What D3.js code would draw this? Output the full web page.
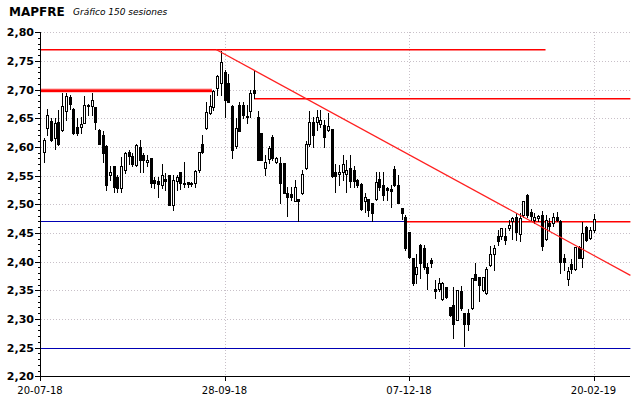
<!DOCTYPE html>
<meta charset="utf-8">
<style>
body { margin: 0; background: #fff; }
svg { display: block; }
.title { font-family: "DejaVu Sans", Verdana, sans-serif; font-weight: bold; font-size: 12px; }
.subtitle { font-family: "DejaVu Sans", Verdana, sans-serif; font-style: italic; font-size: 9px; }
.ylab { font-family: "DejaVu Sans", Verdana, sans-serif; font-weight: bold; font-size: 11px; text-anchor: end; }
.xlab { font-family: "DejaVu Sans", Verdana, sans-serif; font-size: 10px; text-anchor: middle; }
</style>
<svg width="640" height="398"></svg>
<script src="https://d3js.org/d3.v7.min.js"></script>
<script>

// sessions 1..150 (index 0 = 20-07-18 on the axis)
var opens = [2.592,2.633,2.645,2.615,2.644,2.630,2.663,2.688,2.666,2.635,
  2.634,2.642,2.674,2.672,2.670,2.629,2.621,2.601,2.551,2.566,
  2.548,2.528,2.560,2.592,2.584,2.568,2.600,2.586,2.573,2.580,
  2.542,2.541,2.534,2.544,2.551,2.499,2.540,2.556,2.538,2.539,
  2.538,2.538,2.560,2.606,2.633,2.659,2.670,2.702,2.712,2.730,
  2.712,2.671,2.601,2.673,2.673,2.654,2.662,2.699,2.653,2.624,
  2.564,2.579,2.618,2.573,2.572,2.572,2.519,2.518,2.506,2.510,
  2.519,2.563,2.605,2.644,2.644,2.640,2.638,2.630,2.631,2.557,
  2.553,2.557,2.553,2.564,2.560,2.542,2.535,2.505,2.510,2.503,
  2.509,2.545,2.534,2.528,2.526,2.561,2.534,2.493,2.478,2.452,
  2.406,2.378,2.429,2.424,2.390,2.403,2.353,2.352,2.334,2.356,
  2.321,2.324,2.299,2.348,2.310,2.310,2.319,2.378,2.373,2.351,
  2.345,2.394,2.414,2.445,2.444,2.444,2.458,2.471,2.477,2.449,
  2.481,2.516,2.487,2.472,2.476,2.481,2.439,2.468,2.468,2.478,
  2.470,2.406,2.369,2.396,2.388,2.425,2.407,2.460,2.441,2.456];

var highs = [2.615,2.666,2.650,2.650,2.665,2.695,2.695,2.691,2.668,2.650,
  2.652,2.689,2.675,2.695,2.670,2.632,2.627,2.603,2.566,2.566,
  2.551,2.583,2.592,2.595,2.589,2.606,2.612,2.589,2.586,2.580,
  2.548,2.548,2.571,2.554,2.551,2.551,2.551,2.556,2.573,2.539,
  2.539,2.560,2.592,2.621,2.679,2.690,2.699,2.726,2.768,2.735,
  2.728,2.673,2.650,2.679,2.679,2.673,2.699,2.735,2.662,2.624,
  2.586,2.601,2.621,2.582,2.583,2.572,2.531,2.531,2.543,2.510,
  2.559,2.610,2.662,2.653,2.664,2.665,2.647,2.660,2.631,2.571,
  2.568,2.586,2.577,2.586,2.566,2.545,2.537,2.519,2.510,2.503,
  2.557,2.557,2.557,2.531,2.534,2.566,2.551,2.493,2.481,2.452,
  2.406,2.414,2.431,2.429,2.397,2.406,2.368,2.371,2.365,2.356,
  2.321,2.355,2.351,2.357,2.311,2.318,2.371,2.398,2.374,2.374,
  2.390,2.427,2.429,2.456,2.458,2.458,2.473,2.477,2.484,2.484,
  2.506,2.518,2.491,2.485,2.481,2.488,2.481,2.476,2.485,2.487,
  2.472,2.414,2.390,2.404,2.426,2.427,2.469,2.462,2.461,2.483];

var lows = [2.573,2.621,2.610,2.597,2.603,2.627,2.647,2.667,2.623,2.620,
  2.624,2.641,2.656,2.656,2.631,2.605,2.574,2.525,2.542,2.522,
  2.522,2.522,2.554,2.571,2.566,2.566,2.557,2.557,2.566,2.531,
  2.528,2.513,2.528,2.525,2.499,2.490,2.525,2.526,2.531,2.531,
  2.532,2.531,2.557,2.589,2.631,2.658,2.665,2.691,2.691,2.653,
  2.679,2.580,2.598,2.627,2.650,2.641,2.652,2.685,2.577,2.578,
  2.551,2.572,2.577,2.572,2.502,2.519,2.479,2.508,2.505,2.470,
  2.518,2.561,2.602,2.600,2.630,2.634,2.600,2.627,2.548,2.522,
  2.534,2.542,2.522,2.531,2.531,2.531,2.490,2.487,2.480,2.471,
  2.508,2.525,2.508,2.508,2.496,2.532,2.502,2.475,2.420,2.406,
  2.359,2.362,2.371,2.388,2.353,2.391,2.336,2.349,2.333,2.336,
  2.305,2.266,2.298,2.315,2.252,2.281,2.318,2.368,2.332,2.348,
  2.343,2.392,2.386,2.429,2.439,2.431,2.456,2.439,2.437,2.436,
  2.478,2.478,2.470,2.467,2.470,2.421,2.438,2.455,2.462,2.470,
  2.380,2.385,2.359,2.381,2.386,2.407,2.391,2.436,2.439,2.452];

var closes = [2.613,2.656,2.612,2.641,2.606,2.671,2.689,2.675,2.625,2.625,
  2.640,2.673,2.672,2.682,2.644,2.606,2.590,2.534,2.557,2.531,
  2.528,2.566,2.589,2.584,2.571,2.603,2.577,2.577,2.578,2.538,
  2.538,2.536,2.551,2.541,2.499,2.542,2.548,2.538,2.535,2.536,
  2.536,2.558,2.592,2.591,2.661,2.671,2.697,2.723,2.749,2.682,
  2.679,2.595,2.633,2.627,2.656,2.652,2.694,2.695,2.577,2.578,
  2.573,2.599,2.580,2.580,2.537,2.519,2.513,2.513,2.531,2.506,
  2.553,2.605,2.644,2.621,2.652,2.647,2.617,2.637,2.549,2.549,
  2.557,2.570,2.560,2.540,2.540,2.534,2.491,2.512,2.490,2.484,
  2.539,2.530,2.516,2.525,2.524,2.534,2.503,2.484,2.423,2.408,
  2.363,2.390,2.397,2.390,2.380,2.398,2.349,2.363,2.362,2.339,
  2.307,2.292,2.350,2.320,2.292,2.292,2.371,2.368,2.359,2.374,
  2.388,2.414,2.423,2.436,2.458,2.438,2.464,2.476,2.451,2.476,
  2.505,2.481,2.480,2.478,2.479,2.427,2.473,2.462,2.477,2.472,
  2.400,2.400,2.384,2.387,2.425,2.407,2.450,2.438,2.456,2.475];

var dateTicks = [0, 50, 100, 150];
var dateLabels = ["20-07-18", "28-09-18", "07-12-18", "20-02-19"];

// horizontal levels: price, from index, to index, colour
var levelPrices = [2.77, 2.70, 2.685, 2.47, 2.47, 2.25];
var levelFrom   = [0, 0, 58, 0, 99, 0];
var levelTo     = [137, 46.6, 160, 99, 160, 160];
var levelColors = ["#ff0000", "#ff0000", "#ff0000", "#0000b4", "#ff0000", "#0000b4"];

// trend line through the two tops
var trendIdx = [47.7, 160];
var trendPrice = [2.77, 2.376];

var svg = d3.select("svg");

var x = d3.scaleLinear().domain([0, 160]).range([40, 630.4]),
    y = d3.scaleLinear().domain([2.20, 2.80]).range([376.3, 32.3]);

var fmt = d3.formatLocale({decimal: ",", thousands: ".", grouping: [3], currency: ["", "€"]}).format(".2f");
var px = function(v) { return Math.round(v) + 0.5; };

svg.append("rect").attr("width", 640).attr("height", 398).attr("fill", "#fff");

// title
svg.append("text").attr("class", "title").attr("x", 9).attr("y", 16).text("MAPFRE");
svg.append("text").attr("class", "subtitle").attr("x", 73).attr("y", 15).text("Gráfico 150 sesiones");

// grid
var majors = d3.range(2.20, 2.8001, 0.05);
svg.append("g").selectAll("line")
  .data(majors.slice(1))
  .enter().append("line")
    .attr("x1", 41).attr("x2", 630)
    .attr("y1", function(d) { return px(y(d)); })
    .attr("y2", function(d) { return px(y(d)); })
    .attr("stroke", "#c8c0c8")
    .attr("stroke-dasharray", "1,2");

svg.append("g").selectAll("line")
  .data(dateTicks.slice(1))
  .enter().append("line")
    .attr("x1", function(d) { return px(x(d)); })
    .attr("x2", function(d) { return px(x(d)); })
    .attr("y1", 32).attr("y2", 376)
    .attr("stroke", "#c8c0c8")
    .attr("stroke-dasharray", "1,2");

// levels
var levels = svg.append("g");
levels.append("line")
  .attr("x1", x(levelFrom[1])).attr("x2", x(levelTo[1]))
  .attr("y1", px(y(levelPrices[1]))).attr("y2", px(y(levelPrices[1])))
  .attr("stroke", "#ff9a9a").attr("stroke-width", 4);
levelPrices.forEach(function(p, k) {
  var blue = levelColors[k] != "#ff0000";
  var yy = blue ? px(y(p)) : Math.round(y(p)) + 0.75;
  levels.append("line")
    .attr("x1", x(levelFrom[k])).attr("x2", x(levelTo[k]))
    .attr("y1", yy).attr("y2", yy)
    .attr("stroke", levelColors[k])
    .attr("stroke-width", k == 1 ? 2.5 : (blue ? 1.2 : 1.5));
});

// candles
var candles = opens.map(function(o, k) {
  return {i: k + 1, o: o, h: highs[k], l: lows[k], c: closes[k]};
});

var cg = svg.append("g").attr("shape-rendering", "crispEdges");
cg.selectAll("line")
  .data(candles)
  .enter().append("line")
    .attr("x1", function(d) { return px(x(d.i)); })
    .attr("x2", function(d) { return px(x(d.i)); })
    .attr("y1", function(d) { return Math.round(y(d.h)); })
    .attr("y2", function(d) { return Math.round(y(d.l)) + 1; })
    .attr("stroke", "#000");

cg.selectAll("rect.body")
  .data(candles)
  .enter().append("rect")
    .attr("class", "body")
    .attr("x", function(d) { return Math.round(x(d.i)) - 1; })
    .attr("y", function(d) { return Math.round(y(Math.max(d.o, d.c))); })
    .attr("width", 3)
    .attr("height", function(d) { return Math.max(2, Math.round(y(Math.min(d.o, d.c))) - Math.round(y(Math.max(d.o, d.c))) + 1); })
    .attr("fill", "#000");

cg.selectAll("rect.hollow")
  .data(candles.filter(function(d) { return d.c >= d.o; }))
  .enter().append("rect")
    .attr("class", "hollow")
    .attr("x", function(d) { return Math.round(x(d.i)); })
    .attr("y", function(d) { return Math.round(y(d.c)) + 1; })
    .attr("width", 1)
    .attr("height", function(d) { return Math.max(0, Math.round(y(d.o)) - Math.round(y(d.c)) - 1); })
    .attr("fill", "#fff");

// trend line
svg.append("line")
  .attr("x1", x(trendIdx[0])).attr("y1", y(trendPrice[0]))
  .attr("x2", x(trendIdx[1])).attr("y2", y(trendPrice[1]))
  .attr("stroke", "#ff2020").attr("stroke-width", 1.2);

// axes
var ax = svg.append("g").attr("shape-rendering", "crispEdges");
ax.append("line").attr("x1", 40.5).attr("x2", 40.5).attr("y1", 32).attr("y2", 377).attr("stroke", "#000");
ax.append("line").attr("x1", 40).attr("x2", 630).attr("y1", 376.5).attr("y2", 376.5).attr("stroke", "#000");

ax.selectAll("line.minor")
  .data(d3.range(0, 61).map(function(k) { return 2.20 + k * 0.01; }))
  .enter().append("line")
    .attr("class", "minor")
    .attr("x1", function(d, k) { return k % 5 == 0 ? 35 : 38; })
    .attr("x2", 40)
    .attr("y1", function(d) { return px(y(d)); })
    .attr("y2", function(d) { return px(y(d)); })
    .attr("stroke", "#000");

svg.selectAll("text.ylab")
  .data(majors)
  .enter().append("text")
    .attr("class", "ylab")
    .attr("x", 34)
    .attr("y", function(d) { return Math.round(y(d)) + 4; })
    .text(function(d) { return fmt(d); });

ax.selectAll("line.xt")
  .data(dateTicks)
  .enter().append("line")
    .attr("class", "xt")
    .attr("x1", function(d) { return px(x(d)); })
    .attr("x2", function(d) { return px(x(d)); })
    .attr("y1", 377).attr("y2", 381)
    .attr("stroke", "#000");

svg.selectAll("text.xlab")
  .data(dateTicks)
  .enter().append("text")
    .attr("class", "xlab")
    .attr("x", function(d) { return x(d); })
    .attr("y", 394)
    .text(function(d, k) { return dateLabels[k]; });

</script>
